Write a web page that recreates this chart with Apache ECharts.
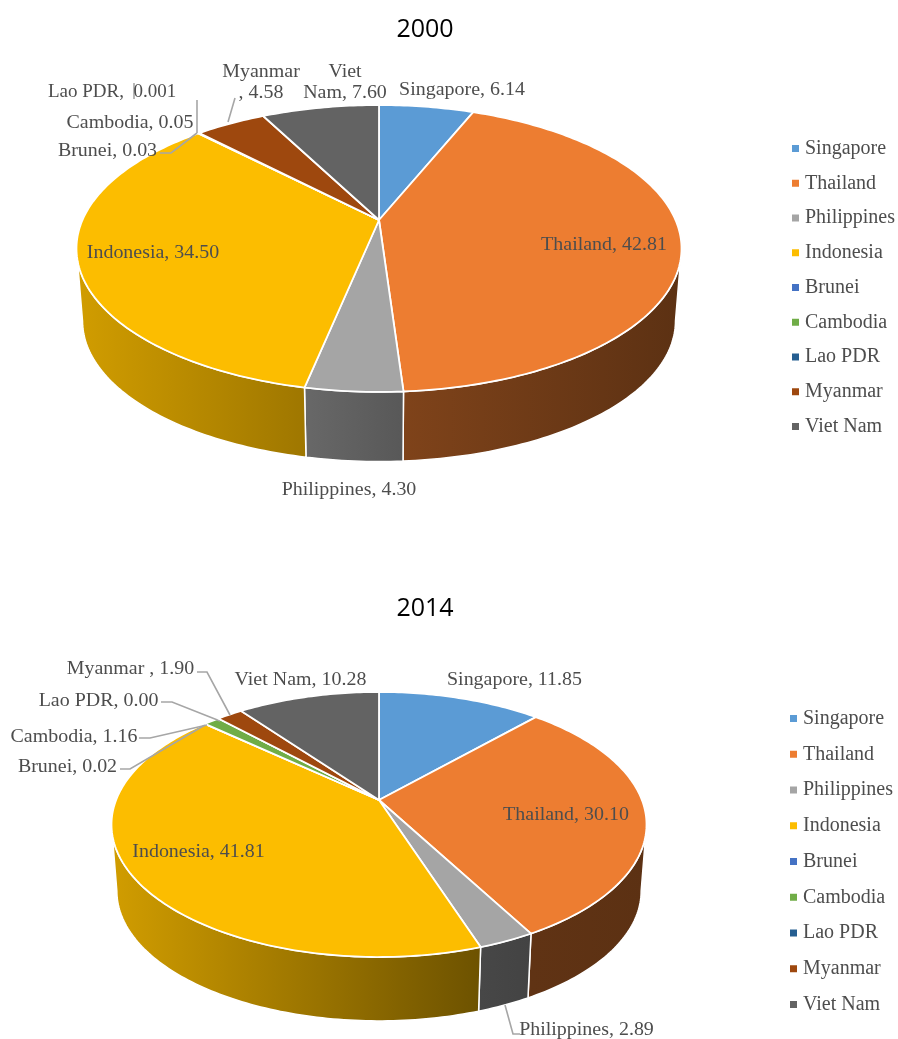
<!DOCTYPE html>
<html>
<head>
    <meta http-equiv="Content-Type" content="text/html; charset=utf-8"/>
    <script src="https://cdn.jsdelivr.net/npm/echarts@6/dist/echarts.min.js"></script>
    <style>
        html, body { margin: 0; padding: 0; background: #fff; }
    </style>
</head>
<body>

<div id="main" style="width: 898px; height: 1039px;"></div>

<script type="text/javascript">
    var categories = ['Singapore', 'Thailand', 'Philippines', 'Indonesia', 'Brunei', 'Cambodia', 'Lao PDR', 'Myanmar', 'Viet Nam'];
    var colors = ['#5B9BD5', '#ED7D31', '#A5A5A5', '#FCBD00', '#4472C4', '#70AD47', '#255E91', '#9E480E', '#636363'];
    var years = ['2000', '2014'];
    var values2000 = [6.14, 42.81, 4.30, 34.50, 0.03, 0.05, 0.001, 4.58, 7.60];
    var values2014 = [11.85, 30.10, 2.89, 41.81, 0.02, 1.16, 0.00, 1.90, 10.28];
    var labels2000 = ['Singapore, 6.14', 'Thailand, 42.81', 'Philippines, 4.30', 'Indonesia, 34.50', 'Brunei, 0.03', 'Cambodia, 0.05', 'Lao PDR,  0.001', 'Myanmar\n, 4.58', 'Viet\nNam, 7.60'];
    var labels2014 = ['Singapore, 11.85', 'Thailand, 30.10', 'Philippines, 2.89', 'Indonesia, 41.81', 'Brunei, 0.02', 'Cambodia, 1.16', 'Lao PDR, 0.00', 'Myanmar , 1.90', 'Viet Nam, 10.28'];

    var allValues = [values2000, values2014];
    var allLabels = [labels2000, labels2014];

    // 透视椭圆参数：顶点、投影系数、饼的厚度
    var pies = [
        {cx: 379, cy: 220, a: 296.5, b: 137.8, k: 0.1986, dy: 73, s: 0.98},
        {cx: 379, cy: 800, a: 262.9, b: 128, k: 0.1849, dy: 67, s: 0.98}
    ];

    // 标签位置 [x, y]，与 categories 一一对应
    var labelPos = [
        [[462, 90], [604, 245], [349, 490], [153, 253], [107.5, 151], [130, 123], [112, 92], [261, 83], [345, 83]],
        [[514.5, 680], [566, 815], [586.5, 1030], [198.5, 852], [67.5, 767], [74, 737], [98.5, 701], [130.5, 669], [300.5, 680]]
    ];
    // 引导线
    var leaders = [
        [null, null, null, null,
            [[160, 153], [171, 153], [197, 133]],
            [[197, 100], [197, 133]],
            [[134, 83], [134, 99]],
            [[235, 98], [228, 122]],
            null],
        [null, null,
            [[505, 1005], [513, 1034], [520, 1034]],
            null,
            [[120, 769], [130, 769], [205, 725]],
            [[139, 738], [150, 738], [207, 725]],
            [[161, 702], [172, 702], [220, 721]],
            [[197, 672], [207, 672], [230, 715]],
            null]
    ];

    // 侧面由左到右逐渐变暗
    function shade(color, f) {
        var r = parseInt(color.substr(1, 2), 16);
        var g = parseInt(color.substr(3, 2), 16);
        var b = parseInt(color.substr(5, 2), 16);
        return 'rgb(' + Math.round(r * f) + ',' + Math.round(g * f) + ',' + Math.round(b * f) + ')';
    }
    function sideLight(t) {
        var stops = [[0, 0.83], [0.38, 0.63], [0.55, 0.53], [0.72, 0.41], [1, 0.39]];
        for (var i = 1; i < stops.length; i++) {
            if (t <= stops[i][0]) {
                var p = (t - stops[i - 1][0]) / (stops[i][0] - stops[i - 1][0]);
                return stops[i - 1][1] + (stops[i][1] - stops[i - 1][1]) * p;
            }
        }
        return 0.39;
    }

    function rimPoint(pie, deg, lower) {
        var r = deg * Math.PI / 180;
        var u = Math.sin(r), v = Math.cos(r);
        var d = 1 + pie.k * v;
        var s = lower ? pie.s : 1;
        var dy = lower ? pie.dy : 0;
        return [pie.cx + s * pie.a * u / d, pie.cy + dy - s * pie.b * v / d];
    }
    function arcPoints(pie, from, to, lower) {
        var pts = [];
        var n = Math.max(1, Math.ceil(Math.abs(to - from)));
        for (var i = 0; i <= n; i++) {
            pts.push(rimPoint(pie, from + (to - from) * i / n, lower));
        }
        return pts;
    }

    function renderSlice(params, api) {
        var yearIdx = api.value(0);
        var catIdx = params.seriesIndex;
        var vals = allValues[yearIdx];
        var pie = pies[yearIdx];
        var total = 0, before = 0;
        for (var i = 0; i < vals.length; i++) {
            total += vals[i];
            if (i < catIdx) before += vals[i];
        }
        var from = before / total * 360;
        var to = (before + api.value(1)) / total * 360;
        var color = colors[catIdx];
        var children = [];

        // 侧面，只画朝前的部分
        var front = Math.acos(-pie.k) * 180 / Math.PI;
        var f0 = Math.max(from, front), f1 = Math.min(to, 360 - front);
        if (f1 > f0) {
            var wall = arcPoints(pie, f0, f1, false).concat(arcPoints(pie, f1, f0, true));
            var x0 = rimPoint(pie, f1, false)[0], x1 = rimPoint(pie, f0, false)[0];
            var left = pie.cx - pie.a * 1.02, width = pie.a * 2.04;
            children.push({
                type: 'polygon',
                shape: {points: wall},
                style: {
                    fill: new echarts.graphic.LinearGradient(x0, 0, x1, 0, [
                        {offset: 0, color: shade(color, sideLight((x0 - left) / width))},
                        {offset: 1, color: shade(color, sideLight((x1 - left) / width))}
                    ], true),
                    stroke: '#fff',
                    lineWidth: 1.5
                }
            });
        }

        // 顶面
        children.push({
            type: 'polygon',
            shape: {points: [[pie.cx, pie.cy]].concat(arcPoints(pie, from, to, false))},
            style: {fill: color, stroke: '#fff', lineWidth: 1.8, lineJoin: 'round'}
        });

        // 引导线
        var line = leaders[yearIdx][catIdx];
        if (line) {
            children.push({
                type: 'polyline',
                shape: {points: line},
                style: {fill: 'none', stroke: '#A6A6A6', lineWidth: 1.6}
            });
        }

        // 数据标签，原图文字略宽
        var pos = labelPos[yearIdx][catIdx];
        children.push({
            type: 'text',
            x: pos[0],
            y: pos[1],
            scaleX: (yearIdx === 0 && catIdx === 6) ? 1 : 1.05,
            style: {
                text: allLabels[yearIdx][catIdx],
                fontFamily: '"Liberation Serif"',
                fontSize: 19,
                lineHeight: 21,
                fill: '#4d4d4d',
                textAlign: 'center',
                textVerticalAlign: 'middle'
            }
        });
        return {type: 'group', children: children};
    }

    function buildSeries() {
        var series = [];
        for (var i = 0; i < categories.length; i++) {
            series.push({
                type: 'custom',
                name: categories[i],
                coordinateSystem: 'none',
                renderItem: renderSlice,
                itemStyle: {color: colors[i]},
                data: [[0, values2000[i]], [1, values2014[i]]],
                animation: false,
                silent: true
            });
        }
        return series;
    }

    function buildLegend(left, top, gap) {
        return {
            orient: 'vertical',
            left: left,
            top: top,
            padding: 0,
            itemGap: gap,
            itemWidth: 7,
            itemHeight: 7,
            icon: 'rect',
            selectedMode: false,
            data: categories,
            textStyle: {
                fontFamily: '"Liberation Serif"',
                fontSize: 20,
                color: '#4d4d4d',
                padding: [0, 0, 0, 1]
            }
        };
    }

    var chart = echarts.init(document.getElementById('main'));
    chart.setOption({
        backgroundColor: '#fff',
        animation: false,
        title: [
            {text: years[0], left: 425, top: 17, textAlign: 'center', padding: 0,
                textStyle: {fontFamily: '"Open Sans"', fontSize: 25, fontWeight: 'normal', color: '#000'}},
            {text: years[1], left: 425, top: 596, textAlign: 'center', padding: 0,
                textStyle: {fontFamily: '"Open Sans"', fontSize: 25, fontWeight: 'normal', color: '#000'}}
        ],
        legend: [buildLegend(792, 138.5, 14.75), buildLegend(790, 708.5, 15.75)],
        series: buildSeries()
    });
</script>

</body>
</html>
